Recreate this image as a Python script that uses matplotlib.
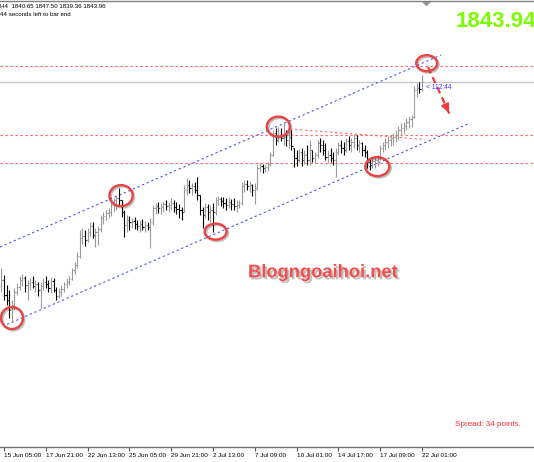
import matplotlib
matplotlib.use("Agg")
import matplotlib.pyplot as plt
import matplotlib.patheffects as pe
from matplotlib.patches import Ellipse, Polygon
import numpy as np

plt.rcParams['font.family'] = ['Liberation Sans', 'DejaVu Sans']

# XAUUSD H4 bars, oldest first
highs = [
    1751, 1747.5, 1742.5, 1740, 1735, 1741, 1743.5, 1747, 1748, 1747,
    1745, 1746, 1747, 1745, 1744, 1744, 1746, 1747, 1745, 1746.5,
    1746, 1741.5, 1741, 1742.5, 1744, 1746, 1747, 1751, 1754, 1759,
    1770, 1771, 1770, 1771, 1774, 1774, 1771, 1772, 1777.5, 1779,
    1780, 1781, 1784, 1786, 1787.5, 1791, 1785, 1780, 1777.5, 1777,
    1776, 1776.5, 1775, 1775, 1775.5, 1774.5, 1774, 1776, 1782.5, 1783.5,
    1784, 1783.5, 1784.5, 1785, 1784, 1786, 1785, 1784, 1783, 1781.5,
    1792.5, 1796, 1795, 1793.5, 1794, 1796.5, 1787.5, 1781.5, 1783.5, 1783,
    1782.5, 1783.5, 1786.5, 1787, 1786.5, 1786.5, 1786, 1786.5, 1785.5, 1786,
    1785, 1785, 1794, 1795, 1795, 1794.5, 1793, 1793.5, 1802.5, 1803.5,
    1803, 1802.5, 1804, 1809, 1820, 1821, 1821.5, 1821, 1824, 1820,
    1819, 1820, 1811, 1810, 1810.5, 1811, 1810, 1812.5, 1815, 1810,
    1809, 1815, 1816, 1815, 1813.5, 1810, 1811, 1809, 1811, 1814,
    1815, 1814, 1816, 1817, 1816, 1818, 1817.5, 1815, 1814, 1812.5,
    1810, 1806, 1806, 1806.5, 1807.5, 1812.5, 1814, 1816, 1817, 1817.5,
    1818.5, 1820, 1822, 1823.5, 1824, 1826, 1827, 1827.5, 1842, 1843.5,
    1844, 1847.50,
]
lows = [
    1739, 1735, 1732.5, 1726, 1724, 1730, 1737.5, 1740, 1742, 1739,
    1735, 1740, 1741, 1739, 1737, 1731, 1740, 1741, 1739, 1738.5,
    1739, 1735, 1736, 1737, 1739, 1741, 1742.5, 1745, 1748, 1751,
    1756, 1763, 1762, 1764, 1767, 1766, 1761.5, 1762.5, 1769, 1773,
    1775, 1776, 1777, 1779, 1780, 1782, 1776.5, 1766.5, 1769, 1770,
    1771, 1770.5, 1770, 1769, 1770, 1769, 1770, 1761, 1772.5, 1778,
    1778.5, 1778, 1779, 1780, 1779, 1780, 1779, 1778, 1776, 1775,
    1779, 1787.5, 1788.5, 1787.5, 1788.5, 1785, 1777.5, 1771, 1776, 1775,
    1774, 1769, 1777.5, 1782.5, 1782, 1781, 1780, 1781, 1780, 1780,
    1779, 1781, 1782.5, 1789, 1790, 1789, 1787, 1783, 1790, 1799,
    1798.5, 1799, 1799.5, 1802, 1807, 1812.5, 1814, 1814.5, 1812.5, 1812,
    1811, 1810, 1801.5, 1802, 1804, 1802, 1803, 1802.5, 1802.5, 1804,
    1803.5, 1806, 1809, 1807.5, 1805, 1803.5, 1804, 1802.5, 1796.5, 1807.5,
    1808.5, 1807.5, 1809, 1810, 1809, 1811, 1810, 1809, 1807, 1806.5,
    1801, 1800, 1801, 1801, 1802, 1805, 1809, 1810, 1811, 1812,
    1812.5, 1814, 1815, 1817, 1818, 1820, 1821, 1821.5, 1826, 1836.5,
    1838.5, 1839.36,
]
closes = [
    1745, 1737.5, 1735, 1730, 1732.5, 1739, 1741.5, 1745, 1746, 1742.5,
    1743.5, 1744, 1742, 1743, 1740, 1742, 1744, 1743, 1741, 1744.5,
    1740, 1737, 1739, 1740.5, 1743, 1744, 1745.5, 1750, 1752.5, 1757,
    1766, 1767, 1765, 1769, 1772, 1767.5, 1769, 1770.5, 1776, 1777,
    1778.5, 1779, 1782.5, 1785, 1786, 1785, 1779, 1772.5, 1775, 1774,
    1774.5, 1773, 1772, 1773, 1771.5, 1772.5, 1771.5, 1774, 1781, 1782,
    1781, 1781.5, 1783, 1782, 1782.5, 1783.5, 1781.5, 1780.5, 1780, 1779,
    1790, 1792.5, 1791, 1792, 1790, 1787.5, 1780, 1777.5, 1781.5, 1779,
    1780, 1779, 1785, 1785.5, 1784.5, 1783.5, 1782.5, 1784, 1783, 1782,
    1782.5, 1783.5, 1792, 1793, 1792, 1792.5, 1790, 1791, 1801, 1802,
    1801, 1801.5, 1803, 1807.5, 1818.5, 1815, 1817.5, 1816, 1817.5, 1815,
    1816.5, 1812, 1806, 1805, 1809, 1805, 1807.5, 1805, 1812.5, 1806,
    1807.5, 1813.5, 1812.5, 1810, 1806.5, 1807.5, 1806, 1805, 1809, 1812.5,
    1811, 1810, 1814.5, 1812.5, 1814, 1816, 1812.5, 1813.5, 1810, 1809,
    1804, 1802.5, 1804.5, 1805, 1806, 1811, 1812.5, 1814, 1815, 1816,
    1816.5, 1817.5, 1820, 1821, 1822, 1824, 1825.5, 1826.5, 1840, 1841,
    1840.65, 1843.96,
]
first_open = 1742.0

time_labels = ["15 Jun 05:00", "17 Jun 21:00", "22 Jun 13:00", "25 Jun 05:00",
               "29 Jun 21:00", "2 Jul 13:00", "7 Jul 09:00", "10 Jul 01:00",
               "14 Jul 17:00", "17 Jul 09:00", "22 Jul 01:00"]
first_label_bar = 1
bars_per_label = 16

# horizontal levels and hand drawn objects (bar index, price)
levels = [1852, 1817.5, 1803.5]
channel_upper_x = [-0.53, 168.3]
channel_upper_y = [1761.5, 1857.5]
channel_lower_x = [2.15, 179.4]
channel_lower_y = [1722.8, 1823.5]
trend_x = [110.5, 162.2]
trend_y = [1820.5, 1815.25]
arrow_x = [163.3, 171.7]
arrow_y = [1851.5, 1827.5]
circle_x = [4.06, 45.8, 82.0, 106.0, 143.9, 162.8]
circle_y = [1726, 1787.2, 1769.2, 1821.7, 1801.7, 1853.4]
circle_w = [8.4, 8.9, 8.4, 8.8, 9.2, 8.0]
circle_h = [11, 10.5, 8, 10, 9.5, 8]

W, H = 534, 462


def px(x, y):
    return x / W, 1 - y / H


fig = plt.figure(figsize=(W / 100, H / 100), dpi=100)
fig.patch.set_facecolor('white')
ax = fig.add_axes([0, 15 / H, 1, 445 / H])
ax.set_xlim(-0.531, 203.87)
ax.set_ylim(1661.5, 1884)

xs = np.arange(len(closes))
highs = np.array(highs)
lows = np.array(lows)
closes = np.array(closes)
opens = np.concatenate([[first_open], closes[:-1]])
opens = np.clip(opens, lows, highs)
# up bars light gray, down bars black
cols = np.where(closes >= opens, '#9a9a9a', '#000000')

# levels and bid line first, bars on top
for lv in levels:
    ax.axhline(lv, color='#ff5a5a', lw=0.8, ls=(0, (2, 2.5)), zorder=1)
ax.axhline(closes[-1], color='#c8c8c8', lw=1.0, zorder=1)

ax.vlines(xs, lows, highs, colors=cols, lw=0.8, zorder=3)
ax.hlines(opens, xs - 0.45, xs, colors=cols, lw=0.8, zorder=3)
ax.hlines(closes, xs, xs + 0.45, colors=cols, lw=0.8, zorder=3)

# channel + trendline
ax.plot(channel_upper_x, channel_upper_y, color='#4d4dff', lw=0.8, ls=(0, (2, 2.5)), zorder=2)
ax.plot(channel_lower_x, channel_lower_y, color='#4d4dff', lw=0.8, ls=(0, (2, 2.5)), zorder=2)
ax.plot(trend_x, trend_y, color='#ff6a6a', lw=0.8, ls=(0, (2, 2.5)), zorder=2)

# arrow
ax.plot(arrow_x, arrow_y, color='#ee3b3b', lw=1.6, ls=(0, (3, 2)), zorder=5)
ax.annotate('', xy=(arrow_x[1], arrow_y[1]),
            xytext=(arrow_x[0] + 0.8 * (arrow_x[1] - arrow_x[0]), arrow_y[0] + 0.8 * (arrow_y[1] - arrow_y[0])),
            arrowprops=dict(arrowstyle='-|>,head_length=0.5,head_width=0.25', color='#ee3b3b', lw=1.2),
            zorder=5)

shadow = [pe.SimpleLineShadow(offset=(1, -1), shadow_color='k', alpha=0.25), pe.Normal()]
for cx, cy, cw, ch in zip(circle_x, circle_y, circle_w, circle_h):
    ax.add_patch(Ellipse((cx, cy), cw, ch, fill=False, ec='#e84444', lw=1.7,
                         zorder=6, path_effects=shadow))

# time axis
for s in ['top', 'left', 'right']:
    ax.spines[s].set_visible(False)
ax.spines['bottom'].set_color('#707070')
ax.spines['bottom'].set_linewidth(1.0)
ax.set_yticks([])
tick_pos = [first_label_bar + bars_per_label * k for k in range(len(time_labels))]
ax.set_xticks(tick_pos)
ax.set_xticklabels(time_labels, ha='left', fontsize=4.6)
ax.tick_params(axis='x', length=3, width=0.8, color='#555555', pad=1.5)

# top frame + shift marker
fig.add_artist(plt.Line2D([0, 1], [1 - 1.2 / H] * 2, color='#808080', lw=1.0, transform=fig.transFigure))
fig.add_artist(Polygon([px(423, 2), px(430, 2), px(426.5, 5.5)], closed=True,
                       color='#9a9a9a', transform=fig.transFigure))

# texts
fig.text(*px(0.5, 7), "H4  1840.65 1847.50 1839.36 1843.96", fontsize=4.4, va='center', color='#000000')
fig.text(*px(0.5, 15), "44 seconds left to bar end", fontsize=4.4, va='center', color='#000000')
fig.text(*px(456, 26.7), "1843.94", fontsize=16, fontweight='bold', color='#7cfc00', va='baseline')
fig.text(*px(425.5, 87.5), "< 112:44", fontsize=4.8, va='center', color='#3a3aff')
fig.text(*px(248, 277.3), "Blogngoaihoi.net", fontsize=13.2, fontweight='bold', color='#f34f4f',
         va='baseline',
         path_effects=[pe.SimplePatchShadow(offset=(1.5, -1.5), shadow_rgbFace='#777777', alpha=0.45),
                       pe.Normal()])
fig.text(*px(455, 426.5), "Spread: 34 points.", fontsize=5.9, color='#ff3030', va='baseline')

fig.savefig('out.png', dpi=100, facecolor='white')
